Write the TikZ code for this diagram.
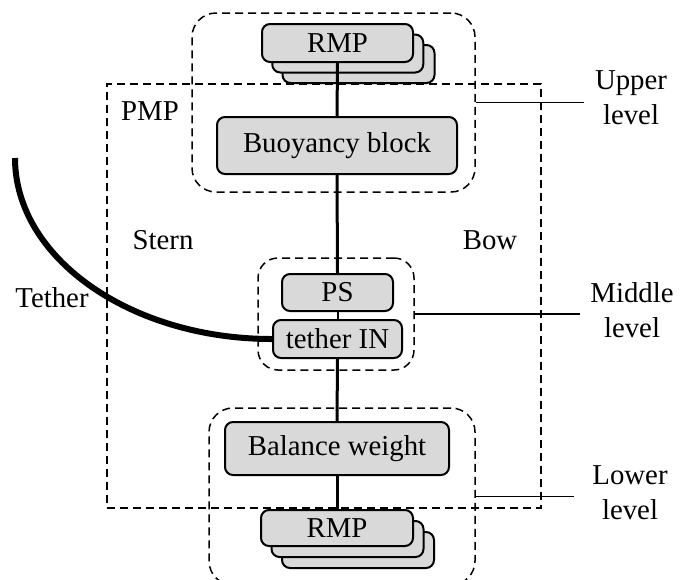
\documentclass[tikz,border=0pt]{standalone}
\usepackage{fontspec}
\setmainfont{Liberation Serif}
\definecolor{boxgray}{HTML}{D9D9D9}
\begin{document}
\begin{tikzpicture}[x=0.5pt,y=-0.5pt,
  every node/.style={font=\fontsize{14.4}{17.5}\selectfont, inner sep=0pt},
  blk/.style={draw=black, line width=1pt, fill=boxgray, rounded corners=4pt},
  grp/.style={draw=black, line width=0.75pt, dash pattern=on 4pt off 2.5pt, rounded corners=12pt},
  conn/.style={line width=1.5pt},
  lvl/.style={line width=0.75pt},
  lbl/.style={align=center}
]
\useasboundingbox (0,0) rectangle (684,579);
\begin{scope}
\clip (0,0) rectangle (684,579);
% groups
\node[grp, minimum width=141.5pt, minimum height=89.5pt] (upper) at (333.5,102.5) {};
\node[grp, minimum width=78pt, minimum height=56pt, rounded corners=10pt] (middle) at (336,314) {};
\node[grp, minimum width=133pt, minimum height=88.5pt] (lower) at (342,496.5) {};
\node[draw=black, line width=0.75pt, dash pattern=on 4pt off 2.5pt, minimum width=217pt, minimum height=212pt] (pmp) at (324,296) {};
% top RMP stack
\node[blk, minimum width=76pt, minimum height=19pt] (rmpT3) at (358.5,64) {};
\node[blk, minimum width=75.5pt, minimum height=19pt] (rmpT2) at (347.75,53.5) {};
\node[blk, minimum width=75.5pt, minimum height=19pt] (rmpT) at (337.5,43) {RMP};
\node[blk, minimum width=120pt, minimum height=28.5pt] (bb) at (337,145.5) {Buoyancy block};
\node[blk, minimum width=55.5pt, minimum height=18.5pt] (ps) at (337.5,292.5) {PS};
\node[blk, minimum width=64.5pt, minimum height=19pt] (tin) at (337.5,339) {tether IN};
\node[blk, minimum width=112pt, minimum height=26.5pt] (bw) at (337,448.5) {Balance weight};
% bottom RMP stack
\node[blk, minimum width=76pt, minimum height=18pt] (rmpB3) at (358,550) {};
\node[blk, minimum width=76pt, minimum height=18pt] (rmpB2) at (347.5,539) {};
\node[blk, minimum width=76pt, minimum height=18pt] (rmpB) at (337,528) {RMP};
% connectors
\draw[conn] (rmpT.south) -- (bb.north);
\draw[conn] (bb.south) -- (ps.north);
\draw[line width=1pt] (ps.south) -- (tin.north);
\draw[conn] (tin.south) -- (bw.north);
\draw[conn] (bw.south) -- (rmpB.north);
% tether
\coordinate (tend) at (15,158);
\draw[line width=3pt] (tend) .. controls (15,258) and (130.5,339) .. (tin.west);
% level lines
\draw[lvl] (upper.east) -- ++(108,0);
\draw[lvl] (middle.east) -- ++(165,0);
\draw[lvl] (lower.east) -- ++(98,0);
\end{scope}
% labels
\node[lbl] (lu) at (631,98) {Upper\\level};
\node[lbl] (lm) at (632,310) {Middle\\level};
\node[lbl] (ll) at (630,493) {Lower\\level};
\node (lpmp) at (150,111) {PMP};
\node (lstern) at (163,240) {Stern};
\node (lbow) at (490,240) {Bow};
\node (lteth) at (52,298) {Tether};
\end{tikzpicture}
\end{document}
